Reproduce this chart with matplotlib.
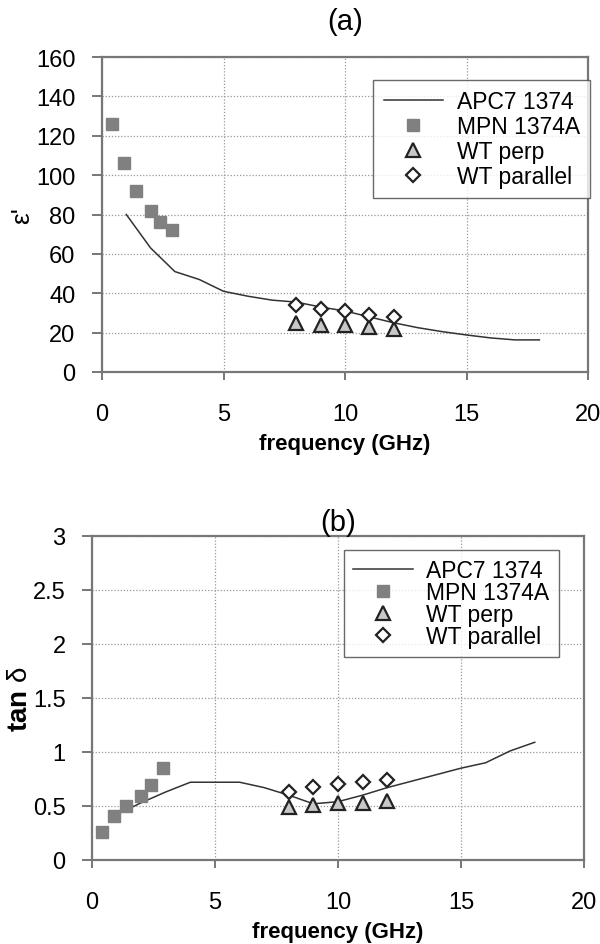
import matplotlib.pyplot as plt
import numpy as np

plt.rcParams['font.family'] = ['Liberation Sans', 'DejaVu Sans']
plt.rcParams['mathtext.fontset'] = 'custom'
plt.rcParams['mathtext.rm'] = 'Liberation Sans'
plt.rcParams['mathtext.bf'] = 'Liberation Sans:bold'
plt.rcParams['mathtext.it'] = 'Liberation Sans'

# (a) permittivity
apc_f = [1, 2, 3, 4, 5, 6, 7, 8, 9, 10, 11, 12, 13, 14, 15, 16, 17, 18]
apc_eps = [80, 63, 51, 47, 41, 38.5, 36.5, 35.5, 33, 31, 28, 25, 22.5, 20.5, 18.8, 17.3, 16.3, 16.3]
mpn_f = [0.4, 0.9, 1.4, 2.0, 2.4, 2.9]
mpn_eps = [126, 106, 92, 82, 76, 72]
wt_f = [8, 9, 10, 11, 12]
perp_eps = [25, 24, 24, 23, 22]
par_eps = [34, 32, 31, 29, 28]

# (b) loss tangent
apc_tan = [0.42, 0.53, 0.63, 0.72, 0.72, 0.72, 0.67, 0.6, 0.52, 0.54, 0.6, 0.67, 0.73, 0.79, 0.85, 0.9, 1.01, 1.09]
mpn_tan = [0.26, 0.41, 0.5, 0.59, 0.69, 0.85]
perp_tan = [0.49, 0.51, 0.53, 0.53, 0.55]
par_tan = [0.63, 0.68, 0.70, 0.72, 0.74]

fig = plt.figure(figsize=(6, 9.45), dpi=100)
ax1 = fig.add_axes([0.17, 0.6053, 0.81, 0.3333])
ax2 = fig.add_axes([0.1533, 0.0889, 0.82, 0.3429])

def style(ax, yticks, ylim, pad_x):
	ax.set_xlim(0, 20)
	ax.set_ylim(*ylim)
	ax.set_xticks([0, 5, 10, 15, 20])
	ax.set_yticks(yticks)
	ax.grid(True, color='#999999', linestyle=(0, (1, 1.5)), linewidth=0.9)
	ax.set_axisbelow(True)
	for s in ax.spines.values():
		s.set_color('#777777')
		s.set_linewidth(1.6)
	ax.tick_params(axis='x', direction='out', length=6, width=1.4, color='#777777', labelsize=17, pad=pad_x)
	ax.tick_params(axis='y', direction='out', length=7, width=1.4, color='#777777', labelsize=17, pad=12)

def draw(ax, apc, mpn, perp, par):
	ax.plot(apc_f, apc, color='#333333', linewidth=1.1, label='APC7 1374')
	ax.plot(mpn_f, mpn, linestyle='none', marker='s', markersize=9, color='#808080', label='MPN 1374A')
	ax.plot(wt_f, perp, linestyle='none', marker='^', markersize=10, markerfacecolor='#c8c8c8',
		markeredgecolor='#222222', markeredgewidth=1.6, label='WT perp')
	ax.plot(wt_f, par, linestyle='none', marker='D', markersize=7, markerfacecolor='white',
		markeredgecolor='#222222', markeredgewidth=1.6, label='WT parallel')

draw(ax1, apc_eps, mpn_eps, perp_eps, par_eps)
style(ax1, [0, 20, 40, 60, 80, 100, 120, 140, 160], (0, 160), 16)
ax1.set_title('(a)', fontsize=21, pad=20)
ax1.set_xlabel('frequency (GHz)', fontsize=16, fontweight='bold', labelpad=6)
ax1.set_ylabel("ε'", fontsize=19)
ax1.yaxis.set_label_coords(-0.14, 0.5)
leg1 = ax1.legend(loc='upper left', bbox_to_anchor=(0.558, 0.927), fontsize=16.5, frameon=True,
	fancybox=False, edgecolor='#444444', borderpad=0.45, labelspacing=0.08, handlelength=2.6,
	handletextpad=0.6, borderaxespad=0)
leg1.get_frame().set_linewidth(1.0)

draw(ax2, apc_tan, mpn_tan, perp_tan, par_tan)
style(ax2, [0, 0.5, 1, 1.5, 2, 2.5, 3], (0, 3), 16)
ax2.set_yticklabels(['0', '0.5', '1', '1.5', '2', '2.5', '3'])
ax2.set_title('(b)', fontsize=21, pad=2)
ax2.set_xlabel('frequency (GHz)', fontsize=16, fontweight='bold', labelpad=6)
ax2.set_ylabel(r'$\mathbf{tan}\ \mathrm{\delta}$', fontsize=20)
ax2.yaxis.set_label_coords(-0.12, 0.5)
leg2 = ax2.legend(loc='upper left', bbox_to_anchor=(0.512, 0.957), fontsize=16.5, frameon=True,
	fancybox=False, edgecolor='#444444', borderpad=0.4, labelspacing=-0.05, handlelength=2.6,
	handletextpad=0.6, borderaxespad=0)
leg2.get_frame().set_linewidth(1.0)

fig.savefig('out.png', dpi=100)
